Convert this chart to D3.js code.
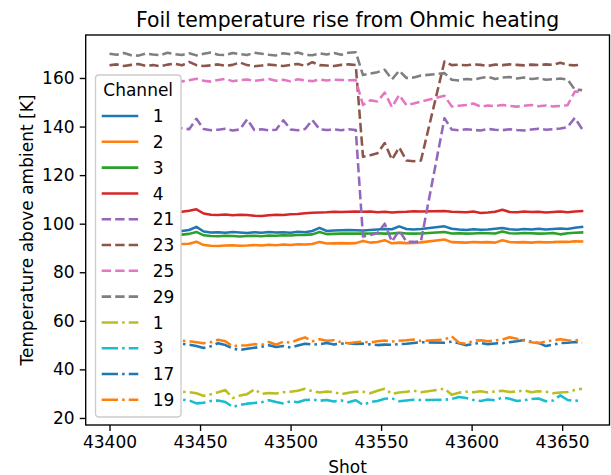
<!DOCTYPE html>
<html><head><meta charset="utf-8">
<script src="https://cdn.jsdelivr.net/npm/d3@7"></script>
<style>
body{margin:0;background:#fff}
svg{display:block}
text{font-family:"DejaVu Sans",sans-serif;fill:#000}
</style>
</head><body>
<svg id="chart" width="611" height="475"></svg>
<script>
// Shot numbers (no data between 43572 and 43585)
const shots = [
  43400,43404,43408,43412,43416,43420,43424,43428,43432,43436,
  43440,43444,43448,43452,43456,43460,43464,43468,43472,43476,
  43480,43484,43488,43492,43496,43500,43504,43508,43512,43516,
  43520,43524,43528,43532,43536,
  43540,43544,43548,43552,43556,43560,43564,43568,43572,
  43585,43589,43593,43597,43601,43605,43609,43613,43617,43621,
  43625,43629,43633,43637,43641,43645,43649,43653,43657,43661
];

// Temperature rise above ambient [K], per channel
const solid1 = [
  97.0,97.2,96.9,97.1,97.3,96.8,97.0,97.2,96.9,97.1,
  97.0,97.4,98.7,96.8,96.4,96.5,96.3,96.6,96.4,96.2,
  96.5,96.3,96.6,96.4,96.5,96.3,96.7,96.5,97.0,98.3,
  97.0,97.2,97.3,97.4,97.3,
  97.2,97.4,97.6,97.8,97.7,98.9,97.8,97.6,97.8,
  98.9,97.9,97.6,97.4,97.7,97.5,97.6,97.9,98.2,97.7,
  97.5,97.8,97.6,97.9,97.6,97.8,98.0,97.8,98.3,98.7
];
const solid2 = [
  91.4,91.6,91.3,91.5,91.4,91.6,91.5,91.3,91.5,91.4,
  91.6,91.7,92.6,91.2,90.9,90.8,91.0,91.1,90.9,91.0,
  91.2,91.0,91.3,91.1,91.4,91.2,91.5,91.4,91.6,92.5,
  91.8,91.9,92.0,91.9,92.0,
  92.9,92.2,92.5,93.2,91.9,92.2,92.0,92.1,92.3,
  93.5,92.4,92.3,92.2,92.5,92.3,92.4,92.2,93.2,92.5,
  92.3,92.4,92.2,92.5,92.3,92.4,92.6,92.5,92.8,92.7
];
const solid3 = [
  95.6,95.5,95.7,95.4,95.6,95.5,95.7,95.6,95.4,95.6,
  95.5,95.8,96.6,95.2,94.9,94.8,95.0,94.9,94.7,94.9,
  95.0,94.8,95.1,95.0,95.2,95.1,95.3,95.4,95.6,96.6,
  95.7,95.8,95.9,96.0,95.9,
  95.9,96.0,96.1,95.9,96.0,96.3,96.0,95.9,96.0,
  96.6,96.0,96.1,95.9,96.0,96.2,96.1,96.0,96.8,96.1,
  96.0,96.2,96.1,95.9,96.0,96.2,95.6,96.1,96.3,96.4
];
const solid4 = [
  105.0,104.8,105.1,104.9,105.2,104.7,105.0,104.9,104.8,105.1,
  104.9,105.3,105.9,104.2,103.7,103.6,103.8,103.5,103.7,103.6,
  103.3,103.2,103.5,103.7,103.6,103.9,104.0,104.3,104.5,104.6,
  104.7,104.9,104.8,104.9,105.0,
  104.9,105.0,104.7,104.9,104.6,104.8,104.9,105.1,105.0,
  105.2,104.9,104.8,104.7,105.0,104.4,104.6,104.9,105.7,104.8,
  104.7,105.0,104.8,104.9,104.6,104.8,105.0,104.7,105.0,105.2
];
const dashed21 = [
  138.8,139.2,138.5,139.0,138.7,139.4,140.5,141.5,139.0,138.6,
  139.3,138.9,143.2,139.0,138.5,138.7,139.1,138.4,138.8,143.0,
  138.6,138.9,138.4,138.7,142.6,138.8,138.5,139.0,142.7,138.9,
  138.6,138.8,138.5,138.9,138.6,
  94.7,95.3,96.2,100.0,92.6,97.2,92.6,92.5,92.7,
  143.4,138.8,138.5,138.9,138.6,138.4,139.0,138.7,138.5,138.9,
  138.6,138.4,138.8,139.1,138.7,138.9,139.2,139.8,143.6,139.0
];
const dashed23 = [
  165.2,165.6,164.9,165.4,165.8,165.0,165.3,164.8,165.5,165.9,
  165.2,166.6,165.3,164.9,165.2,165.6,165.0,165.4,166.4,165.3,
  164.8,165.1,165.5,165.2,164.9,165.4,165.8,165.0,166.5,165.3,
  165.1,164.9,165.4,165.6,165.3,
  127.6,128.2,129.0,133.2,126.4,131.4,126.0,125.7,126.0,
  166.8,165.3,165.5,165.2,165.6,165.4,165.0,165.5,165.3,165.6,
  165.4,165.2,165.5,165.3,165.6,165.4,166.3,165.4,165.2,165.5
];
const dashed25 = [
  159.4,159.0,158.6,159.6,159.2,158.4,159.0,159.5,158.8,159.3,
  158.6,159.1,159.7,158.9,158.5,159.2,159.6,158.7,159.1,159.4,
  158.8,159.2,159.6,158.9,159.3,158.6,159.5,159.0,158.7,159.4,
  159.0,159.3,159.2,159.1,159.2,
  148.9,150.8,150.3,154.0,148.0,153.0,148.8,149.5,150.3,
  152.7,148.3,148.6,148.9,149.5,148.2,148.7,148.4,148.9,148.5,
  148.2,148.6,148.9,148.4,148.7,148.3,148.5,148.8,154.4,154.2
];
const dashed29 = [
  170.0,169.6,170.3,169.4,169.2,170.1,169.7,169.4,170.4,169.8,
  169.5,170.2,169.3,170.0,170.5,169.6,169.4,170.3,169.8,169.5,
  170.4,170.0,169.6,169.3,170.2,169.8,170.5,169.5,169.4,170.1,
  169.7,170.3,169.6,170.4,170.6,
  161.2,161.8,162.4,163.4,159.4,163.0,160.0,160.2,161.0,
  162.0,159.3,159.0,159.6,159.3,160.0,160.5,159.6,160.2,160.4,
  159.8,160.2,159.6,159.9,159.3,159.5,159.8,159.4,155.2,155.0
];
const dashdot1 = [
  30.6,31.0,30.4,30.9,30.5,31.2,30.7,30.3,30.9,30.6,
  30.8,30.6,30.2,29.1,29.8,30.6,31.5,28.2,29.2,29.8,
  31.8,29.9,30.3,30.1,30.6,30.8,31.2,32.0,31.0,30.5,
  30.9,30.6,29.8,30.4,30.8,
  30.8,30.2,31.2,32.0,29.9,30.5,30.8,31.2,30.6,
  32.0,29.6,30.4,30.8,30.6,31.0,30.5,30.9,31.2,30.7,
  30.9,31.3,30.6,31.0,30.8,30.2,30.5,30.7,31.5,32.0
];
const dashdot3 = [
  27.4,27.0,27.6,27.2,26.9,27.5,27.1,27.4,26.8,27.3,
  27.6,27.2,26.0,26.3,27.0,27.2,26.6,24.5,25.3,25.9,
  26.2,26.5,27.3,26.6,26.0,26.8,26.5,27.4,27.6,27.1,
  27.4,26.8,27.2,26.5,27.3,
  25.4,26.5,27.0,27.9,28.1,26.9,27.2,27.5,27.4,
  27.5,27.8,28.6,28.2,27.4,27.0,27.6,27.3,28.4,27.9,
  27.0,27.3,27.8,28.0,26.9,27.2,29.3,27.4,27.0,27.4
];
const dashdot17 = [
  50.2,50.6,49.9,50.4,50.1,50.5,49.8,50.3,50.6,50.0,
  50.5,50.2,49.6,48.8,49.5,50.8,50.0,48.6,48.0,48.5,
  48.9,49.3,49.9,49.2,49.6,49.0,49.8,50.6,50.2,50.4,
  50.9,50.3,50.6,50.8,50.5,
  50.6,50.3,50.0,50.2,50.1,50.4,50.6,50.9,51.2,
  51.0,51.4,50.8,49.9,50.6,50.9,50.4,50.7,50.8,51.2,
  51.6,52.1,51.4,50.9,49.6,50.2,50.8,51.0,51.3,51.0
];
const dashdot19 = [
  51.5,51.0,51.8,51.2,50.7,51.4,51.0,51.6,51.2,51.4,
  51.8,51.6,51.2,50.8,51.2,52.2,51.6,49.5,49.8,49.9,
  50.4,50.1,51.3,50.2,51.4,51.0,52.2,53.2,51.6,52.4,
  51.8,52.0,51.2,50.8,51.2,
  51.4,51.0,51.6,51.9,51.5,51.8,52.0,52.3,51.7,
  52.3,53.6,51.0,50.5,51.8,52.0,51.6,51.9,52.3,53.2,
  52.6,51.8,51.2,50.8,51.5,52.0,52.4,52.0,51.7,52.8
];

const channelLabels = ["1","2","3","4","21","23","25","29","1","3","17","19"];
const yTicks = [20,40,60,80,100,120,140,160];
const xTicks = [43400,43450,43500,43550,43600,43650];

const seriesValues = [solid1, solid2, solid3, solid4, dashed21, dashed23, dashed25, dashed29,
                      dashdot1, dashdot3, dashdot17, dashdot19];
const colors = ["#1f77b4","#ff7f0e","#2ca02c","#d62728","#9467bd","#8c564b","#e377c2","#7f7f7f",
                "#bcbd22","#17becf","#1f77b4","#ff7f0e"];
const styles = ["solid","solid","solid","solid","dashed","dashed","dashed","dashed",
                "dashdot","dashdot","dashdot","dashdot"];
const dashArray = {solid: null, dashed: "9.4,4.1", dashdot: "16.3,4.1,2.55,4.1"};

const svg = d3.select("#chart");
const plot = {left: 85.7, right: 609.5, top: 35, bottom: 425};

const x = d3.scaleLinear().domain([43386.85, 43676.15]).range([plot.left, plot.right]);
const y = d3.scaleLinear().domain([17.1, 177.7]).range([plot.bottom, plot.top]);

// series
const line = d3.line()
  .defined(d => d[1] != null)
  .x(d => x(d[0])).y(d => y(d[1]));

const gLines = svg.append("g");
seriesValues.forEach((vals, i) => {
  gLines.append("path")
    .datum(shots.map((s, k) => [s, vals[k]]))
    .attr("d", line)
    .attr("fill", "none")
    .attr("stroke", colors[i])
    .attr("stroke-width", 2.55)
    .attr("stroke-linejoin", "round")
    .attr("stroke-linecap", styles[i] === "solid" ? "square" : "butt")
    .attr("stroke-dasharray", dashArray[styles[i]]);
});

// axes
const tickLen = 5.95;
const xAxis = d3.axisBottom(x).tickValues(xTicks).tickFormat(d3.format("d"))
  .tickSizeInner(tickLen).tickSizeOuter(0).tickPadding(5.2);
const yAxis = d3.axisLeft(y).tickValues(yTicks).tickFormat(d3.format("d"))
  .tickSizeInner(tickLen).tickSizeOuter(0).tickPadding(5.2);

const gx = svg.append("g").attr("transform", `translate(0,${plot.bottom})`).call(xAxis);
const gy = svg.append("g").attr("transform", `translate(${plot.left},0)`).call(yAxis);
[gx, gy].forEach(g => {
  g.select(".domain").remove();
  g.selectAll(".tick line").attr("stroke", "#000").attr("stroke-width", 1.36);
  g.selectAll(".tick text").attr("font-size", 17).attr("font-family", "DejaVu Sans").attr("fill", "#000");
});

// frame
svg.append("rect")
  .attr("x", plot.left).attr("y", plot.top)
  .attr("width", plot.right - plot.left).attr("height", plot.bottom - plot.top)
  .attr("fill", "none").attr("stroke", "#000").attr("stroke-width", 1.36);

// title and axis labels
const cx = (plot.left + plot.right) / 2;
svg.append("text").attr("x", cx).attr("y", 26.6).attr("text-anchor", "middle")
  .attr("font-size", 20.4).text("Foil temperature rise from Ohmic heating");
svg.append("text").attr("x", cx).attr("y", 472.5).attr("text-anchor", "middle")
  .attr("font-size", 17).text("Shot");
svg.append("text")
  .attr("transform", `translate(33,${(plot.top + plot.bottom) / 2}) rotate(-90)`)
  .attr("text-anchor", "middle").attr("font-size", 17)
  .text("Temperature above ambient [K]");

// legend
const leg = svg.append("g");
leg.append("rect")
  .attr("x", 95.5).attr("y", 75).attr("width", 85.5).attr("height", 342).attr("rx", 3.4)
  .attr("fill", "#fff")
  .attr("stroke", "#cccccc").attr("stroke-width", 1.36);
leg.append("text").attr("x", 138.2).attr("y", 95.8).attr("text-anchor", "middle")
  .attr("font-size", 17).text("Channel");
channelLabels.forEach((lab, i) => {
  const cy = 116 + i * 25.8;
  leg.append("line")
    .attr("x1", 101.7).attr("x2", 138.3).attr("y1", cy).attr("y2", cy)
    .attr("stroke", colors[i]).attr("stroke-width", 2.55)
    .attr("stroke-dasharray", dashArray[styles[i]]);
  leg.append("text").attr("x", 152.7).attr("y", cy + 6.2)
    .attr("font-size", 17).text(lab);
});
</script>
</body></html>
